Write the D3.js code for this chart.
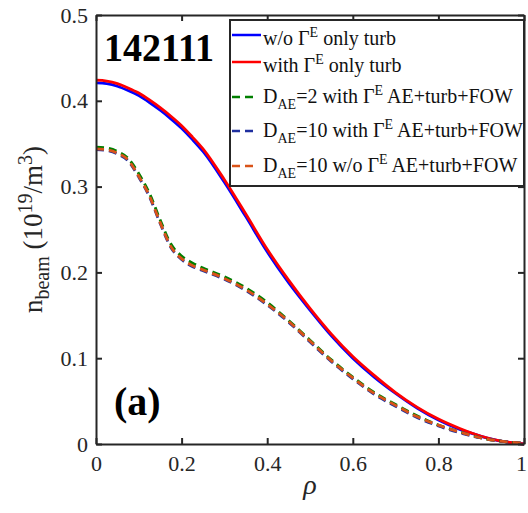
<!DOCTYPE html>
<html>
<head>
<meta charset="utf-8">
<script src="https://cdn.jsdelivr.net/npm/d3@7/dist/d3.min.js"></script>
<style>
  html, body { margin: 0; padding: 0; background: #fff; }
  svg, svg text { font-family: "Liberation Serif", "Tinos", "Times New Roman", "DejaVu Serif", serif; }
</style>
</head>
<body>
<div id="chart"></div>
<script>
// rho grid shared by every profile
const rho = [0, 0.025, 0.05, 0.075, 0.1, 0.125, 0.15, 0.175, 0.2, 0.225, 0.25, 0.3, 0.35,
  0.4, 0.45, 0.5, 0.55, 0.6, 0.65, 0.7, 0.75, 0.8, 0.85, 0.9, 0.95, 1.0];

// n_beam profiles (10^19/m^3)
const woOnlyTurb = [0.421, 0.420, 0.417, 0.412, 0.406, 0.398, 0.389, 0.379, 0.368, 0.355, 0.341, 0.305, 0.265,
  0.224, 0.188, 0.156, 0.126, 0.100, 0.078, 0.059, 0.042, 0.028, 0.017, 0.009, 0.003, 0.000];
const withOnlyTurb = [0.424, 0.423, 0.420, 0.415, 0.409, 0.401, 0.392, 0.382, 0.371, 0.358, 0.344, 0.308, 0.268,
  0.227, 0.191, 0.158, 0.128, 0.102, 0.080, 0.060, 0.043, 0.029, 0.018, 0.009, 0.003, 0.000];
const dae2With = [0.346, 0.345, 0.341, 0.333, 0.315, 0.292, 0.261, 0.233, 0.219, 0.211, 0.205, 0.195, 0.182,
  0.165, 0.144, 0.121, 0.098, 0.078, 0.060, 0.046, 0.033, 0.022, 0.014, 0.007, 0.003, 0.001];
const dae10With = [0.343, 0.342, 0.338, 0.330, 0.311, 0.288, 0.257, 0.229, 0.215, 0.207, 0.202, 0.192, 0.179,
  0.162, 0.142, 0.119, 0.096, 0.076, 0.058, 0.044, 0.031, 0.021, 0.013, 0.007, 0.003, 0.001];
const dae10Wo = [0.344, 0.343, 0.339, 0.331, 0.312, 0.289, 0.258, 0.230, 0.216, 0.208, 0.203, 0.193, 0.180,
  0.163, 0.143, 0.120, 0.097, 0.077, 0.059, 0.045, 0.032, 0.022, 0.014, 0.007, 0.003, 0.001];

const xTicks = [0, 0.2, 0.4, 0.6, 0.8, 1];
const yTicks = [0, 0.1, 0.2, 0.3, 0.4, 0.5];

const series = [
  { values: woOnlyTurb, color: '#0000ff', dash: null },
  { values: withOnlyTurb, color: '#ff0000', dash: null },
  { values: dae2With, color: '#007f00', dash: '8,5' },
  { values: dae10With, color: '#1f2f9f', dash: '8,5' },
  { values: dae10Wo, color: '#d95319', dash: '8,5' }
];

const FONT = '"Liberation Serif", "Tinos", "Times New Roman", "DejaVu Serif", serif';
const width = 528, height = 513;
const margin = { top: 15, right: 4, bottom: 69, left: 96 };

const svg = d3.select('#chart').append('svg')
  .attr('width', width)
  .attr('height', height)
  .attr('font-family', FONT);

svg.append('rect').attr('width', width).attr('height', height).attr('fill', '#fff');

const x = d3.scaleLinear().domain([0, 1]).range([margin.left, width - margin.right]);
const y = d3.scaleLinear().domain([0, 0.5]).range([height - margin.bottom, margin.top]);

const fmt = d => (d === 0 || d === 1) ? String(d) : d.toFixed(1);
const axisColor = '#262626';

// curves
const line = d3.line()
  .x((d, i) => x(rho[i]))
  .y(d => y(d))
  .curve(d3.curveMonotoneX);

svg.append('g')
  .selectAll('path')
  .data(series)
  .enter()
  .append('path')
  .attr('d', d => line(d.values))
  .attr('fill', 'none')
  .attr('stroke', d => d.color)
  .attr('stroke-width', 2.8)
  .attr('stroke-dasharray', d => d.dash);

// axes, ticks inside like matlab box on
const styleAxis = g => {
  g.attr('font-family', FONT).attr('font-size', 22);
  g.select('.domain').attr('stroke', axisColor).attr('stroke-width', 2);
  g.selectAll('.tick line').attr('stroke', axisColor).attr('stroke-width', 2);
  g.selectAll('.tick text').attr('fill', '#262626');
};

svg.append('g')
  .attr('transform', `translate(0,${y(0)})`)
  .call(d3.axisBottom(x).tickValues(xTicks).tickFormat(fmt).tickSize(-6).tickSizeOuter(0).tickPadding(11))
  .call(styleAxis)
  .selectAll('.tick text')
  .attr('dx', d => d === 1 ? -3 : 0);

svg.append('g')
  .attr('transform', `translate(0,${y(0.5)})`)
  .call(d3.axisTop(x).tickValues(xTicks).tickFormat('').tickSize(-6).tickSizeOuter(0))
  .call(styleAxis);

svg.append('g')
  .attr('transform', `translate(${x(0)},0)`)
  .call(d3.axisLeft(y).tickValues(yTicks).tickFormat(fmt).tickSize(-6).tickSizeOuter(0).tickPadding(8))
  .call(styleAxis);

svg.append('g')
  .attr('transform', `translate(${x(1)},0)`)
  .call(d3.axisRight(y).tickValues(yTicks).tickFormat('').tickSize(-6).tickSizeOuter(0))
  .call(styleAxis);

// axis labels
const ylab = svg.append('text')
  .attr('transform', `translate(42,${(y(0) + y(0.5)) / 2}) rotate(-90)`)
  .attr('text-anchor', 'middle')
  .attr('font-size', 27)
  .attr('fill', '#262626');
ylab.append('tspan').text('n');
ylab.append('tspan').attr('dy', 7).attr('font-size', 20).text('beam');
ylab.append('tspan').attr('dy', -7).text(' (10');
ylab.append('tspan').attr('dy', -10).attr('font-size', 20).text('19');
ylab.append('tspan').attr('dy', 10).text('/m');
ylab.append('tspan').attr('dy', -10).attr('font-size', 20).text('3');
ylab.append('tspan').attr('dy', 10).text(')');

svg.append('text')
  .attr('x', (x(0) + x(1)) / 2)
  .attr('y', 494)
  .attr('text-anchor', 'middle')
  .attr('font-size', 28)
  .attr('font-style', 'italic')
  .attr('fill', '#262626')
  .text('ρ');

// shot number and panel tag
svg.append('text')
  .attr('x', 104).attr('y', 61)
  .attr('textLength', 110).attr('lengthAdjust', 'spacingAndGlyphs')
  .attr('font-size', 40).attr('font-weight', 'bold')
  .text('142111');

svg.append('text')
  .attr('x', 114).attr('y', 415)
  .attr('font-size', 40).attr('font-weight', 'bold')
  .text('(a)');

// legend
const legend = svg.append('g');
legend.append('rect')
  .attr('x', 230).attr('y', 20)
  .attr('width', x(1) - 230).attr('height', 166)
  .attr('fill', '#fff')
  .attr('stroke', axisColor)
  .attr('stroke-width', 2);

const legendRows = [
  { s: series[0], ly: 35, ty: 45, parts: [['w/o Γ'], ['E', 'sup'], [' only turb']] },
  { s: series[1], ly: 62, ty: 72, parts: [['with Γ'], ['E', 'sup'], [' only turb']] },
  { s: series[2], ly: 97, ty: 103, parts: [['D'], ['AE', 'sub'], ['=2 with Γ'], ['E', 'sup'], [' AE+turb+FOW']] },
  { s: series[3], ly: 131, ty: 137, parts: [['D'], ['AE', 'sub'], ['=10 with Γ'], ['E', 'sup'], [' AE+turb+FOW']] },
  { s: series[4], ly: 166, ty: 172, parts: [['D'], ['AE', 'sub'], ['=10 w/o Γ'], ['E', 'sup'], [' AE+turb+FOW']] }
];

legendRows.forEach(r => {
  legend.append('line')
    .attr('x1', 232).attr('x2', r.s.dash ? 256 : 261)
    .attr('y1', r.ly).attr('y2', r.ly)
    .attr('stroke', r.s.color)
    .attr('stroke-width', 2.5)
    .attr('stroke-dasharray', r.s.dash);
  const t = legend.append('text')
    .attr('x', 263).attr('y', r.ty)
    .attr('font-size', 20)
    .attr('fill', '#111');
  let shift = 0;
  r.parts.forEach(([txt, kind]) => {
    const target = kind === 'sup' ? -8 : kind === 'sub' ? 6 : 0;
    t.append('tspan')
      .attr('dy', target - shift)
      .attr('font-size', kind ? 14 : 20)
      .text(txt);
    shift = target;
  });
});
</script>
</body>
</html>
